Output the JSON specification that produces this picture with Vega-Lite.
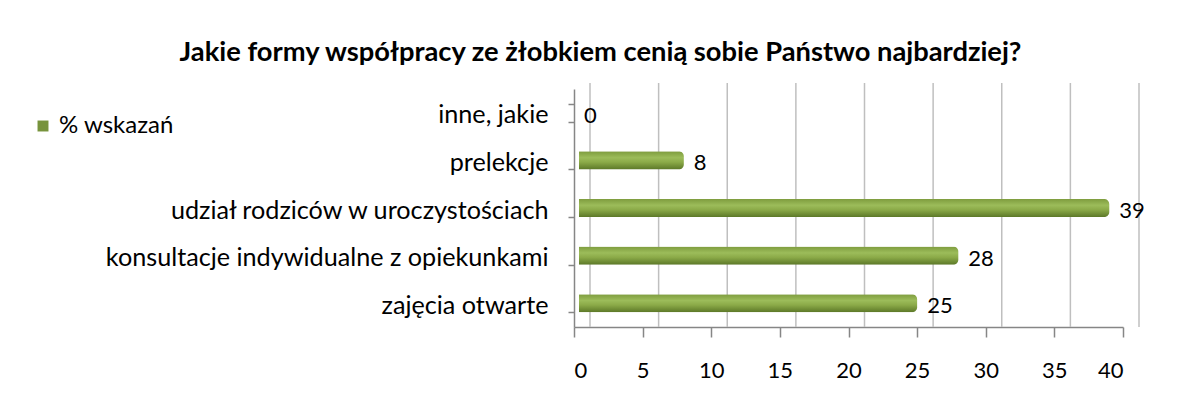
{
  "$schema": "https://vega.github.io/schema/vega-lite/v6.json",
  "width": 549,
  "height": 238,
  "autosize": {"type": "none"},
  "padding": {"left": 574, "top": 89, "right": 57, "bottom": 76},
  "background": "white",
  "config": {"view": {"stroke": null}, "font": "Lato"},
  "title": {
    "text": "Jakie formy współpracy ze żłobkiem cenią sobie Państwo najbardziej?",
    "font": "Lato",
    "fontSize": 27.3,
    "fontWeight": "bold",
    "color": "#000000",
    "anchor": "middle",
    "dx": -248,
    "offset": 11
  },
  "datasets": {
    "bars": [
      {"kategoria": "inne, jakie", "wartosc": 0, "seria": "% wskazań"},
      {"kategoria": "prelekcje", "wartosc": 8, "seria": "% wskazań"},
      {"kategoria": "udział rodziców w uroczystościach", "wartosc": 39, "seria": "% wskazań"},
      {"kategoria": "konsultacje indywidualne z opiekunkami", "wartosc": 28, "seria": "% wskazań"},
      {"kategoria": "zajęcia otwarte", "wartosc": 25, "seria": "% wskazań"}
    ],
    "grid": [{"g": 0}, {"g": 5}, {"g": 10}, {"g": 15}, {"g": 20}, {"g": 25}, {"g": 30}, {"g": 35}, {"g": 40}]
  },
  "layer": [
    {
      "data": {"name": "grid"},
      "mark": {"type": "rule", "color": "#BFBFBF", "strokeWidth": 1.5, "xOffset": 16, "yOffset": -6},
      "encoding": {
        "x": {"field": "g", "type": "quantitative", "scale": {"domain": [0, 40]}}
      }
    },
    {
      "data": {"name": "bars"},
      "mark": {
        "type": "bar",
        "xOffset": 5,
        "cornerRadiusEnd": 5,
        "cornerRadiusTopLeft": 2,
        "cornerRadiusBottomLeft": 2,
        "fill": {
          "gradient": "linear",
          "x1": 0, "y1": 0, "x2": 0, "y2": 1,
          "stops": [
            {"offset": 0, "color": "#7E9C3E"},
            {"offset": 0.35, "color": "#9CBC5A"},
            {"offset": 0.6, "color": "#8BAA48"},
            {"offset": 1, "color": "#5C7828"}
          ]
        }
      },
      "encoding": {
        "y": {
          "field": "kategoria", "type": "nominal", "sort": null,
          "scale": {"paddingInner": 0.62, "paddingOuter": 0.31},
          "axis": {
            "title": null,
            "domainColor": "#868686",
            "domainWidth": 1.5,
            "tickColor": "#868686",
            "tickWidth": 1.5,
            "tickSize": 6,
            "tickBand": "extent",
            "labelFont": "Lato",
            "labelFontSize": 25.2,
            "labelColor": "#000000",
            "labelPadding": 20,
            "labelLimit": 600,
            "labelBaseline": "middle",
            "labelOffset": 2
          }
        },
        "x": {
          "field": "wartosc", "type": "quantitative",
          "scale": {"domain": [0, 40]},
          "axis": {
            "title": null,
            "values": [0, 5, 10, 15, 20, 25, 30, 35, 40],
            "grid": false,
            "domainColor": "#868686",
            "domainWidth": 1.5,
            "tickColor": "#868686",
            "tickWidth": 1.5,
            "tickSize": 10,
            "labelFont": "Lato",
            "labelFontSize": 22,
            "labelColor": "#000000",
            "labelPadding": 23
          }
        },
        "color": {
          "field": "seria", "type": "nominal",
          "scale": {"range": ["#77933C"]},
          "legend": {
            "title": null,
            "orient": "none",
            "legendX": -543,
            "legendY": 25,
            "symbolType": "square",
            "symbolSize": 120,
            "labelFont": "Lato",
            "labelFontSize": 24,
            "labelColor": "#000000",
            "labelOffset": 4
          }
        }
      }
    },
    {
      "data": {"name": "bars"},
      "mark": {"type": "text", "align": "left", "baseline": "middle", "dx": 10, "dy": 3, "font": "Lato", "fontSize": 22, "color": "#000000"},
      "encoding": {
        "y": {"field": "kategoria", "type": "nominal", "sort": null},
        "x": {"field": "wartosc", "type": "quantitative"},
        "text": {"field": "wartosc", "type": "quantitative"}
      }
    }
  ]
}
